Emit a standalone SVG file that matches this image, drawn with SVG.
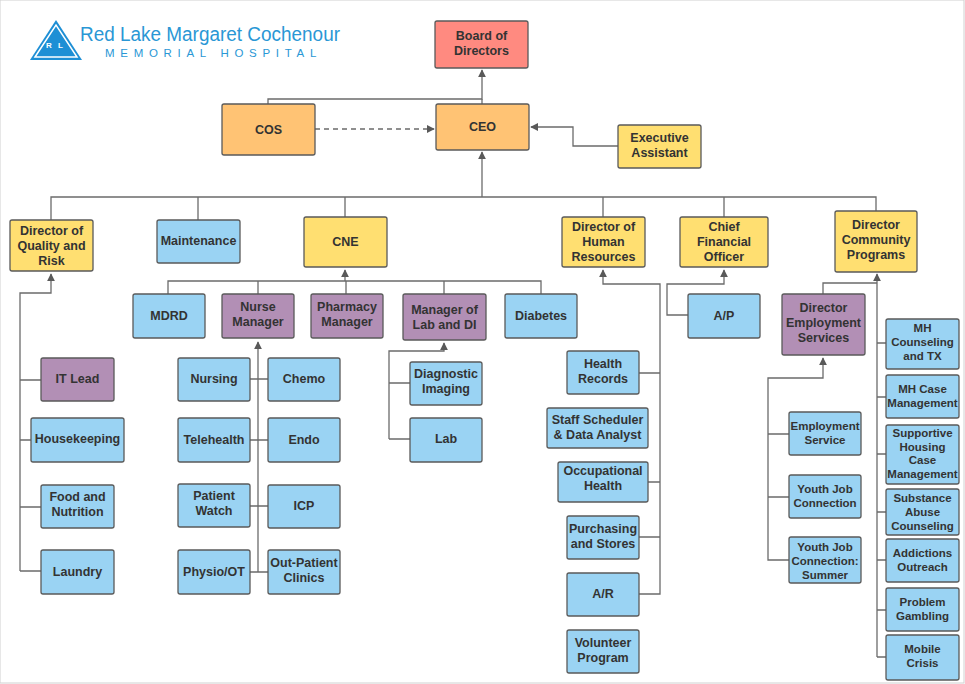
<svg xmlns="http://www.w3.org/2000/svg" width="965" height="684" viewBox="0 0 965 684">
<defs>
<marker id="arw" viewBox="0 0 10 10" refX="9" refY="5" markerWidth="8" markerHeight="8" orient="auto-start-reverse" markerUnits="userSpaceOnUse"><path d="M0,0 L10,5 L0,10 z" fill="#595959"/></marker>
<style>
rect.n{stroke:#5a5a5a;stroke-width:1.3}
.y{fill:#FFDF71}.o{fill:#FFC374}.r{fill:#FF8A80}.b{fill:#9AD3F3}.p{fill:#B28FB5}
text.t{font-family:"Liberation Sans",Arial,sans-serif;font-weight:bold;font-size:12.5px;fill:#333;text-anchor:middle}
#connectors path{fill:none;stroke:#6b6b6b;stroke-width:1.3}
</style>
</defs>
<rect x="0" y="0" width="964" height="683" fill="#fff" stroke="#d0d0d0"/>
<g id="logo">
<polygon points="30,60 56,20 82,60" fill="#1E8FD5"/>
<polygon points="35,57 56,25 77,57" fill="none" stroke="#fff" stroke-width="1.5"/>
<text x="46" y="48" font-family="Liberation Sans,sans-serif" font-size="8" fill="#fff" font-weight="bold">R</text>
<text x="58" y="48" font-family="Liberation Sans,sans-serif" font-size="8" fill="#fff" font-weight="bold">L</text>
<text x="80" y="41" font-family="Liberation Sans,Arial,sans-serif" font-size="19.5" fill="#2A97D5" textLength="260" lengthAdjust="spacingAndGlyphs">Red Lake Margaret Cochenour</text>
<text x="105" y="57" font-family="Liberation Sans,Arial,sans-serif" font-size="11.5" fill="#2A97D5" letter-spacing="5.7">MEMORIAL HOSPITAL</text>
</g>
<g id="connectors">
<path d="M268,104 V99 H482 V70" marker-end="url(#arw)"/>
<path d="M482,104 V99"/>
<path d="M315,129 H434" stroke-dasharray="5,4" marker-end="url(#arw)"/>
<path d="M618,146 H573 V127 H531" marker-end="url(#arw)"/>
<path d="M51,220 V197 H876 V211"/>
<path d="M198,220 V197 M345,217 V197 M603,217 V197 M724,217 V197"/>
<path d="M482,197 V152" marker-end="url(#arw)"/>
<path d="M168,294 V281 H541 V294 M258,294 V281 M346,294 V281 M444,294 V281"/>
<path d="M345,281 V270" marker-end="url(#arw)"/>
<path d="M20,571 V293 H51 V274" marker-end="url(#arw)"/>
<path d="M20,380 H41 M20,440 H31 M20,507 H41 M20,571 H41"/>
<path d="M258,572 V342" marker-end="url(#arw)"/>
<path d="M250,379 H268 M250,440 H268 M250,506 H268 M250,572 H268"/>
<path d="M389,439 V351 H444 V343" marker-end="url(#arw)"/>
<path d="M389,383 H410 M389,439 H410"/>
<path d="M639,594 H660 V284 H603 V270" marker-end="url(#arw)"/>
<path d="M639,373 H660 M648,482 H660 M639,537 H660"/>
<path d="M688,315 H667 V284 H724 V270" marker-end="url(#arw)"/>
<path d="M877,657 V274" marker-end="url(#arw)"/>
<path d="M823,294 V283 H877"/>
<path d="M877,343 H886 M877,397 H886 M877,454 H886 M877,512 H886 M877,560 H886 M877,610 H886 M877,657 H886"/>
<path d="M789,560 H768 V378 H823 V358" marker-end="url(#arw)"/>
<path d="M768,434 H789 M768,497 H789"/>
</g>
<g id="board"><rect class="n r" x="435" y="21" width="93" height="47" rx="2"/><text class="t" x="481.5" y="40">Board of</text><text class="t" x="481.5" y="55">Directors</text></g>
<g id="cos"><rect class="n o" x="222" y="104" width="93" height="51" rx="2"/><text class="t" x="268.5" y="134">COS</text></g>
<g id="ceo"><rect class="n o" x="436" y="104" width="93" height="46" rx="2"/><text class="t" x="482.5" y="131">CEO</text></g>
<g id="ea"><rect class="n y" x="618" y="125" width="83" height="43" rx="2"/><text class="t" x="659.5" y="142">Executive</text><text class="t" x="659.5" y="157">Assistant</text></g>
<g id="dqr"><rect class="n y" x="10" y="220" width="83" height="51" rx="2"/><text class="t" x="51.5" y="235">Director of</text><text class="t" x="51.5" y="250">Quality and</text><text class="t" x="51.5" y="265">Risk</text></g>
<g id="maint"><rect class="n b" x="157" y="220" width="83" height="43" rx="2"/><text class="t" x="198.5" y="245">Maintenance</text></g>
<g id="cne"><rect class="n y" x="304" y="217" width="83" height="50" rx="2"/><text class="t" x="345.5" y="246">CNE</text></g>
<g id="dhr"><rect class="n y" x="562" y="217" width="83" height="50" rx="2"/><text class="t" x="603.5" y="231">Director of</text><text class="t" x="603.5" y="246">Human</text><text class="t" x="603.5" y="261">Resources</text></g>
<g id="cfo"><rect class="n y" x="680" y="217" width="88" height="50" rx="2"/><text class="t" x="724" y="231">Chief</text><text class="t" x="724" y="246">Financial</text><text class="t" x="724" y="261">Officer</text></g>
<g id="dcp"><rect class="n y" x="835" y="211" width="82" height="61" rx="2"/><text class="t" x="876" y="229">Director</text><text class="t" x="876" y="244">Community</text><text class="t" x="876" y="259">Programs</text></g>
<g id="mdrd"><rect class="n b" x="133" y="294" width="72" height="44" rx="2"/><text class="t" x="169" y="320">MDRD</text></g>
<g id="nm"><rect class="n p" x="222" y="294" width="72" height="44" rx="2"/><text class="t" x="258" y="311">Nurse</text><text class="t" x="258" y="326">Manager</text></g>
<g id="pm"><rect class="n p" x="311" y="294" width="72" height="44" rx="2"/><text class="t" x="347" y="311">Pharmacy</text><text class="t" x="347" y="326">Manager</text></g>
<g id="mld"><rect class="n p" x="403" y="294" width="83" height="46" rx="2"/><text class="t" x="444.5" y="314">Manager of</text><text class="t" x="444.5" y="329">Lab and DI</text></g>
<g id="diab"><rect class="n b" x="505" y="294" width="72" height="44" rx="2"/><text class="t" x="541" y="320">Diabetes</text></g>
<g id="ap"><rect class="n b" x="688" y="294" width="72" height="44" rx="2"/><text class="t" x="724" y="320">A/P</text></g>
<g id="des"><rect class="n p" x="782" y="294" width="83" height="61" rx="2"/><text class="t" x="823.5" y="312">Director</text><text class="t" x="823.5" y="327">Employment</text><text class="t" x="823.5" y="342">Services</text></g>
<g id="it"><rect class="n p" x="41" y="358" width="73" height="43" rx="2"/><text class="t" x="77.5" y="383">IT Lead</text></g>
<g id="hk"><rect class="n b" x="31" y="418" width="93" height="44" rx="2"/><text class="t" x="77.5" y="443">Housekeeping</text></g>
<g id="fn"><rect class="n b" x="41" y="485" width="73" height="43" rx="2"/><text class="t" x="77.5" y="501">Food and</text><text class="t" x="77.5" y="516">Nutrition</text></g>
<g id="laundry"><rect class="n b" x="41" y="550" width="73" height="44" rx="2"/><text class="t" x="77.5" y="576">Laundry</text></g>
<g id="nursing"><rect class="n b" x="178" y="358" width="72" height="43" rx="2"/><text class="t" x="214" y="383">Nursing</text></g>
<g id="chemo"><rect class="n b" x="268" y="358" width="72" height="43" rx="2"/><text class="t" x="304" y="383">Chemo</text></g>
<g id="tele"><rect class="n b" x="178" y="418" width="72" height="44" rx="2"/><text class="t" x="214" y="444">Telehealth</text></g>
<g id="endo"><rect class="n b" x="268" y="418" width="72" height="44" rx="2"/><text class="t" x="304" y="444">Endo</text></g>
<g id="pw"><rect class="n b" x="178" y="484" width="72" height="43" rx="2"/><text class="t" x="214" y="500">Patient</text><text class="t" x="214" y="515">Watch</text></g>
<g id="icp"><rect class="n b" x="268" y="485" width="72" height="43" rx="2"/><text class="t" x="304" y="510">ICP</text></g>
<g id="physio"><rect class="n b" x="178" y="550" width="72" height="44" rx="2"/><text class="t" x="214" y="576">Physio/OT</text></g>
<g id="opc"><rect class="n b" x="268" y="550" width="72" height="44" rx="2"/><text class="t" x="304" y="567">Out-Patient</text><text class="t" x="304" y="582">Clinics</text></g>
<g id="di"><rect class="n b" x="410" y="362" width="72" height="43" rx="2"/><text class="t" x="446" y="378">Diagnostic</text><text class="t" x="446" y="393">Imaging</text></g>
<g id="lab"><rect class="n b" x="410" y="418" width="72" height="44" rx="2"/><text class="t" x="446" y="443">Lab</text></g>
<g id="hr"><rect class="n b" x="567" y="351" width="72" height="43" rx="2"/><text class="t" x="603" y="368">Health</text><text class="t" x="603" y="383">Records</text></g>
<g id="ss"><rect class="n b" x="547" y="408" width="101" height="40" rx="2"/><text class="t" x="597.5" y="424">Staff Scheduler</text><text class="t" x="597.5" y="439">&amp; Data Analyst</text></g>
<g id="oh"><rect class="n b" x="558" y="462" width="90" height="40" rx="2"/><text class="t" x="603" y="475">Occupational</text><text class="t" x="603" y="490">Health</text></g>
<g id="ps"><rect class="n b" x="567" y="516" width="72" height="43" rx="2"/><text class="t" x="603" y="533">Purchasing</text><text class="t" x="603" y="548">and Stores</text></g>
<g id="arnode"><rect class="n b" x="567" y="573" width="72" height="43" rx="2"/><text class="t" x="603" y="598">A/R</text></g>
<g id="vp"><rect class="n b" x="567" y="630" width="72" height="43" rx="2"/><text class="t" x="603" y="647">Volunteer</text><text class="t" x="603" y="662">Program</text></g>
<g id="es"><rect class="n b" x="789" y="412" width="72" height="43" rx="2"/><text class="t" x="825" y="430" style="font-size:11.5px">Employment</text><text class="t" x="825" y="444" style="font-size:11.5px">Service</text></g>
<g id="yjc"><rect class="n b" x="789" y="475" width="72" height="43" rx="2"/><text class="t" x="825" y="493" style="font-size:11.5px">Youth Job</text><text class="t" x="825" y="507" style="font-size:11.5px">Connection</text></g>
<g id="yjs"><rect class="n b" x="789" y="537" width="72" height="46" rx="2"/><text class="t" x="825" y="551" style="font-size:11.5px">Youth Job</text><text class="t" x="825" y="565" style="font-size:11.5px">Connection:</text><text class="t" x="825" y="579" style="font-size:11.5px">Summer</text></g>
<g id="mhc"><rect class="n b" x="886" y="319" width="73" height="50" rx="2"/><text class="t" x="922.5" y="332" style="font-size:11.5px">MH</text><text class="t" x="922.5" y="346" style="font-size:11.5px">Counseling</text><text class="t" x="922.5" y="360" style="font-size:11.5px">and TX</text></g>
<g id="mhcm"><rect class="n b" x="886" y="375" width="73" height="43" rx="2"/><text class="t" x="922.5" y="393" style="font-size:11.5px">MH Case</text><text class="t" x="922.5" y="407" style="font-size:11.5px">Management</text></g>
<g id="shcm"><rect class="n b" x="886" y="425" width="73" height="59" rx="2"/><text class="t" x="922.5" y="437" style="font-size:11.5px">Supportive</text><text class="t" x="922.5" y="451" style="font-size:11.5px">Housing</text><text class="t" x="922.5" y="464" style="font-size:11.5px">Case</text><text class="t" x="922.5" y="478" style="font-size:11.5px">Management</text></g>
<g id="sac"><rect class="n b" x="886" y="489" width="73" height="46" rx="2"/><text class="t" x="922.5" y="502" style="font-size:11.5px">Substance</text><text class="t" x="922.5" y="516" style="font-size:11.5px">Abuse</text><text class="t" x="922.5" y="530" style="font-size:11.5px">Counseling</text></g>
<g id="ao"><rect class="n b" x="886" y="539" width="73" height="43" rx="2"/><text class="t" x="922.5" y="557" style="font-size:11.5px">Addictions</text><text class="t" x="922.5" y="571" style="font-size:11.5px">Outreach</text></g>
<g id="pg"><rect class="n b" x="886" y="588" width="73" height="43" rx="2"/><text class="t" x="922.5" y="606" style="font-size:11.5px">Problem</text><text class="t" x="922.5" y="620" style="font-size:11.5px">Gambling</text></g>
<g id="mc"><rect class="n b" x="886" y="635" width="73" height="45" rx="2"/><text class="t" x="922.5" y="653" style="font-size:11.5px">Mobile</text><text class="t" x="922.5" y="667" style="font-size:11.5px">Crisis</text></g>
</svg>
